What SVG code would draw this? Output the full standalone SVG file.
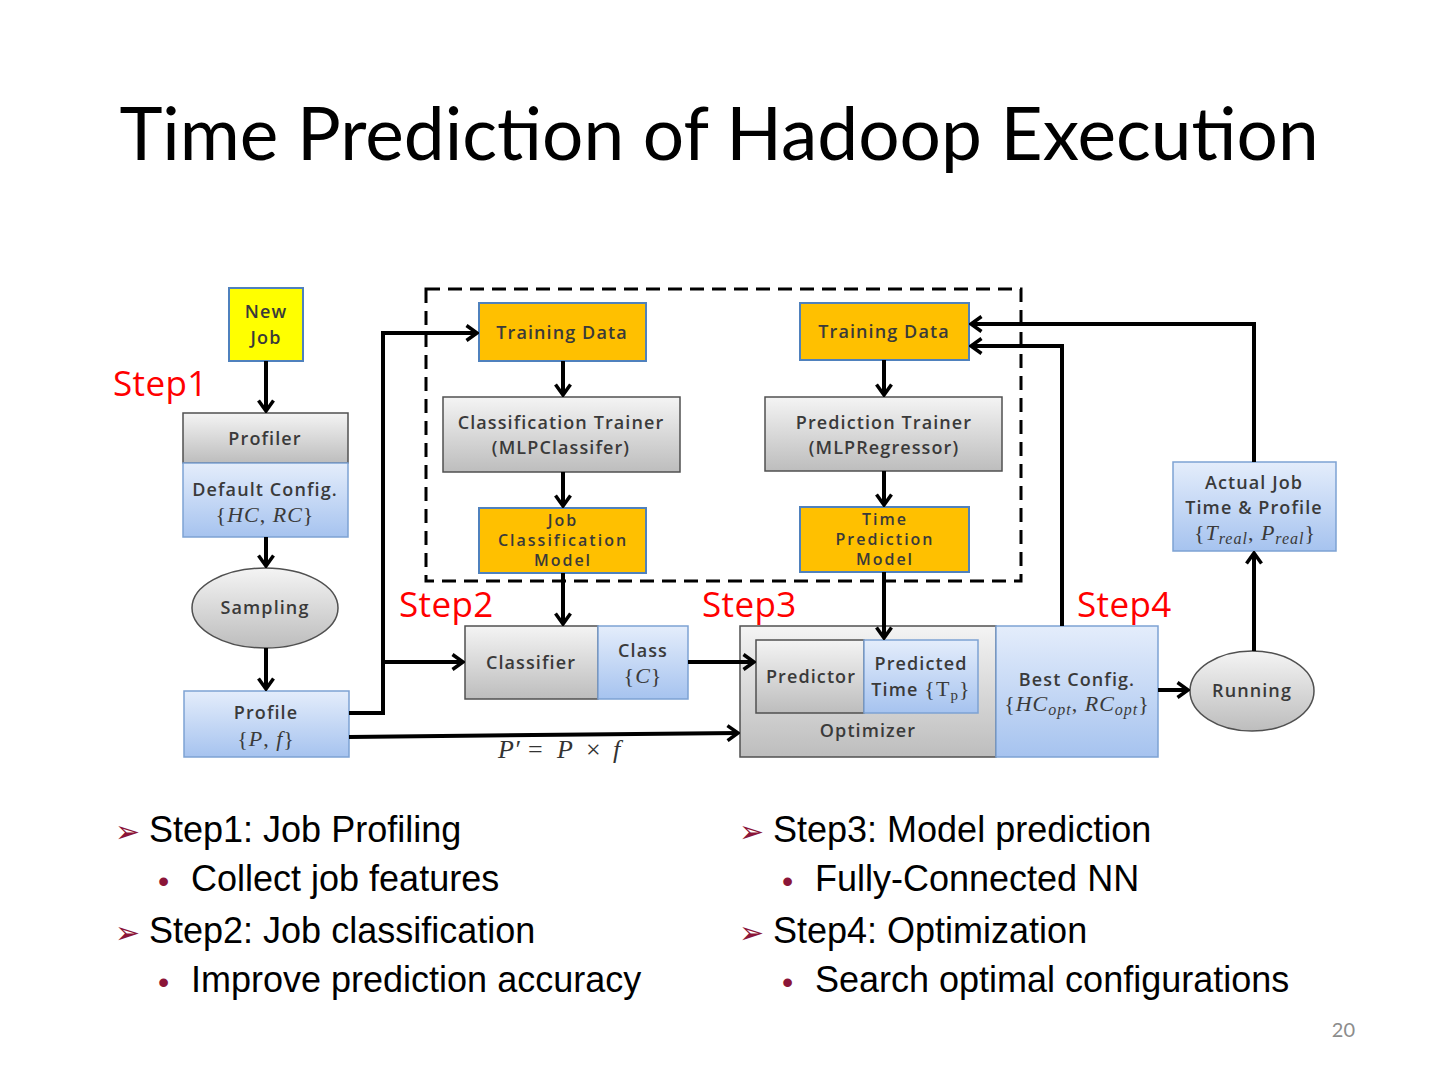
<svg xmlns="http://www.w3.org/2000/svg" width="1440" height="1080" viewBox="0 0 1440 1080">
<defs>
  <linearGradient id="gGray" x1="0" y1="0" x2="0" y2="1">
    <stop offset="0" stop-color="#F4F4F4"/>
    <stop offset="1" stop-color="#BDBDBD"/>
  </linearGradient>
  <linearGradient id="gBlue" x1="0" y1="0" x2="0" y2="1">
    <stop offset="0" stop-color="#E4EDFB"/>
    <stop offset="1" stop-color="#A6C3EF"/>
  </linearGradient>
  <marker id="arr" viewBox="0 0 14 18" refX="12" refY="9" markerWidth="14" markerHeight="18" markerUnits="userSpaceOnUse" orient="auto">
    <path d="M1.5,1.5 L12,9 L1.5,16.5" fill="none" stroke="#000" stroke-width="3.5" stroke-linejoin="miter"/>
  </marker>
  <style>
    .gray{fill:url(#gGray);stroke:#505050;stroke-width:1.5}
    .blue{fill:url(#gBlue);stroke:#7DA2D3;stroke-width:1.5}
    .orange{fill:#FFC000;stroke:#4F81BD;stroke-width:2}
    .yellow{fill:#FFFF00;stroke:#4F81BD;stroke-width:2}
    .t{font-family:"Open Sans",Lato,sans-serif;font-weight:600;font-size:18px;letter-spacing:1.1px;fill:#3A3A3A;text-anchor:middle}
    .t3{font-family:"Open Sans",Lato,sans-serif;font-weight:600;font-size:16px;letter-spacing:2px;fill:#3A3A3A;text-anchor:middle}
    .m{font-family:"Liberation Serif",serif;font-size:22px;letter-spacing:1px;fill:#3A3A3A;text-anchor:middle}
    .step{font-family:"Open Sans",Lato,sans-serif;font-size:35px;letter-spacing:0.4px;fill:#FF0000}
    .b1{font-family:"Liberation Sans",Arial,sans-serif;font-size:36px;fill:#000}
    .arrb{font-family:"DejaVu Sans",sans-serif;font-size:30px;fill:#8B1538}
    .dot{font-family:"Liberation Sans",sans-serif;font-size:32px;fill:#8B1538}
    .c{fill:none;stroke:#000;stroke-width:4}
  </style>
</defs>
<rect x="0" y="0" width="1440" height="1080" fill="#FFFFFF"/>

<text x="719" y="160" font-family="Lato,'Open Sans',sans-serif" font-size="73" fill="#000" text-anchor="middle">Time Prediction of Hadoop Execution</text>

<rect id="trainbox" x="426" y="289" width="595" height="292" fill="none" stroke="#000" stroke-width="3" stroke-dasharray="14 8"/>

<g id="newjob">
  <rect class="yellow" x="229" y="288" width="74" height="73"/>
  <text class="t" x="266" y="318">New</text>
  <text class="t" x="266" y="344">Job</text>
</g>
<g id="profiler">
  <rect class="gray" x="183" y="413" width="165" height="50"/>
  <text class="t" x="265" y="445">Profiler</text>
</g>
<g id="defaultconfig">
  <rect class="blue" x="183" y="463" width="165" height="74"/>
  <text class="t" x="265" y="496">Default Config.</text>
  <text class="m" x="265" y="522">{<tspan font-style="italic">HC</tspan>, <tspan font-style="italic">RC</tspan>}</text>
</g>
<g id="sampling">
  <ellipse cx="265" cy="608" rx="73" ry="40" class="gray"/>
  <text class="t" x="265" y="614">Sampling</text>
</g>
<g id="profile">
  <rect class="blue" x="184" y="691" width="165" height="66"/>
  <text class="t" x="266" y="719">Profile</text>
  <text class="m" x="266" y="746">{<tspan font-style="italic">P</tspan>, <tspan font-style="italic">f</tspan>}</text>
</g>

<g id="trainingdata1">
  <rect class="orange" x="479" y="303" width="167" height="58"/>
  <text class="t" x="562" y="339">Training Data</text>
</g>
<g id="classtrainer">
  <rect class="gray" x="443" y="397" width="237" height="75"/>
  <text class="t" x="561" y="429">Classification Trainer</text>
  <text class="t" x="561" y="454">(MLPClassifer)</text>
</g>
<g id="jobclassmodel">
  <rect class="orange" x="479" y="508" width="167" height="65"/>
  <text class="t3" x="563" y="526">Job</text>
  <text class="t3" x="563" y="546">Classification</text>
  <text class="t3" x="563" y="566">Model</text>
</g>
<g id="classifier">
  <rect class="gray" x="465" y="626" width="133" height="73"/>
  <text class="t" x="531" y="669">Classifier</text>
</g>
<g id="class">
  <rect class="blue" x="598" y="626" width="90" height="73"/>
  <text class="t" x="643" y="657">Class</text>
  <text class="m" x="643" y="683">{<tspan font-style="italic">C</tspan>}</text>
</g>

<g id="trainingdata2">
  <rect class="orange" x="800" y="303" width="169" height="57"/>
  <text class="t" x="884" y="338">Training Data</text>
</g>
<g id="predtrainer">
  <rect class="gray" x="765" y="397" width="237" height="74"/>
  <text class="t" x="884" y="429">Prediction Trainer</text>
  <text class="t" x="884" y="454">(MLPRegressor)</text>
</g>
<g id="timepredmodel">
  <rect class="orange" x="800" y="507" width="169" height="65"/>
  <text class="t3" x="885" y="525">Time</text>
  <text class="t3" x="885" y="545">Prediction</text>
  <text class="t3" x="885" y="565">Model</text>
</g>

<g id="optimizer">
  <rect class="gray" x="740" y="626" width="256" height="131"/>
  <text class="t" x="868" y="737">Optimizer</text>
</g>
<g id="predictor">
  <rect class="gray" x="756" y="640" width="108" height="73"/>
  <text class="t" x="811" y="683" letter-spacing="0.3">Predictor</text>
</g>
<g id="predictedtime">
  <rect class="blue" x="864" y="640" width="114" height="73"/>
  <text class="t" x="921" y="670" letter-spacing="0.6">Predicted</text>
  <text class="t" x="921" y="696" letter-spacing="0.6">Time <tspan font-family="'Liberation Serif',serif" font-weight="normal" font-size="22">{T<tspan font-size="15" dy="4">p</tspan><tspan dy="-4">}</tspan></tspan></text>
</g>
<g id="bestconfig">
  <rect class="blue" x="996" y="626" width="162" height="131"/>
  <text class="t" x="1077" y="686">Best Config.</text>
  <text class="m" x="1077" y="711">{<tspan font-style="italic">HC</tspan><tspan font-style="italic" font-size="16" dy="4">opt</tspan><tspan dy="-4">, </tspan><tspan font-style="italic">RC</tspan><tspan font-style="italic" font-size="16" dy="4">opt</tspan><tspan dy="-4">}</tspan></text>
</g>
<g id="running">
  <ellipse cx="1252" cy="691" rx="62" ry="40" class="gray"/>
  <text class="t" x="1252" y="697">Running</text>
</g>
<g id="actualjob">
  <rect class="blue" x="1173" y="462" width="163" height="89"/>
  <text class="t" x="1254" y="489">Actual Job</text>
  <text class="t" x="1254" y="514">Time &amp; Profile</text>
  <text class="m" x="1255" y="540">{<tspan font-style="italic">T</tspan><tspan font-style="italic" font-size="16" dy="4">real</tspan><tspan dy="-4">, </tspan><tspan font-style="italic">P</tspan><tspan font-style="italic" font-size="16" dy="4">real</tspan><tspan dy="-4">}</tspan></text>
</g>

<g id="connectors">
  <path class="c" d="M266,361 V411" marker-end="url(#arr)"/>
  <path class="c" d="M266,537 V566" marker-end="url(#arr)"/>
  <path class="c" d="M266,648 V689" marker-end="url(#arr)"/>
  <path class="c" d="M349,713 H383 V333 H477" marker-end="url(#arr)"/>
  <path class="c" d="M383,662 H463" marker-end="url(#arr)"/>
  <path class="c" d="M349,737 L738,733" marker-end="url(#arr)"/>
  <path class="c" d="M563,361 V395" marker-end="url(#arr)"/>
  <path class="c" d="M563,472 V506" marker-end="url(#arr)"/>
  <path class="c" d="M563,573 V624" marker-end="url(#arr)"/>
  <path class="c" d="M688,662 H754" marker-end="url(#arr)"/>
  <path class="c" d="M884,360 V395" marker-end="url(#arr)"/>
  <path class="c" d="M884,471 V505" marker-end="url(#arr)"/>
  <path class="c" d="M884,572 V638" marker-end="url(#arr)"/>
  <path class="c" d="M1158,690 H1188" marker-end="url(#arr)"/>
  <path class="c" d="M1254,651 V553" marker-end="url(#arr)"/>
  <path class="c" d="M1254,462 V324 H971" marker-end="url(#arr)"/>
  <path class="c" d="M1062,626 V346 H971" marker-end="url(#arr)"/>
  <text y="758" font-family="'Liberation Serif',serif" font-size="26" fill="#333"><tspan x="498" font-style="italic">P′</tspan><tspan x="528">=</tspan><tspan x="557" font-style="italic">P</tspan><tspan x="586">×</tspan><tspan x="613" font-style="italic">f</tspan></text>
</g>

<text class="step" x="113" y="396">Step1</text>
<text class="step" x="399" y="617">Step2</text>
<text class="step" x="702" y="617">Step3</text>
<text class="step" x="1077" y="617">Step4</text>

<g id="bullets">
  <text class="arrb" x="115" y="842">➢</text>
  <text class="b1" x="149" y="842">Step1: Job Profiling</text>
  <text class="dot" x="158" y="892">•</text>
  <text class="b1" x="191" y="891">Collect job features</text>
  <text class="arrb" x="115" y="943">➢</text>
  <text class="b1" x="149" y="943">Step2: Job classification</text>
  <text class="dot" x="158" y="993">•</text>
  <text class="b1" x="191" y="992">Improve prediction accuracy</text>

  <text class="arrb" x="739" y="842">➢</text>
  <text class="b1" x="773" y="842">Step3: Model prediction</text>
  <text class="dot" x="782" y="892">•</text>
  <text class="b1" x="815" y="891">Fully-Connected NN</text>
  <text class="arrb" x="739" y="943">➢</text>
  <text class="b1" x="773" y="943">Step4: Optimization</text>
  <text class="dot" x="782" y="993">•</text>
  <text class="b1" x="815" y="992">Search optimal configurations</text>
</g>
<text x="1355" y="1037" font-family="Lato,'Open Sans',sans-serif" font-size="20" fill="#8C8C8C" text-anchor="end">20</text>
</svg>
